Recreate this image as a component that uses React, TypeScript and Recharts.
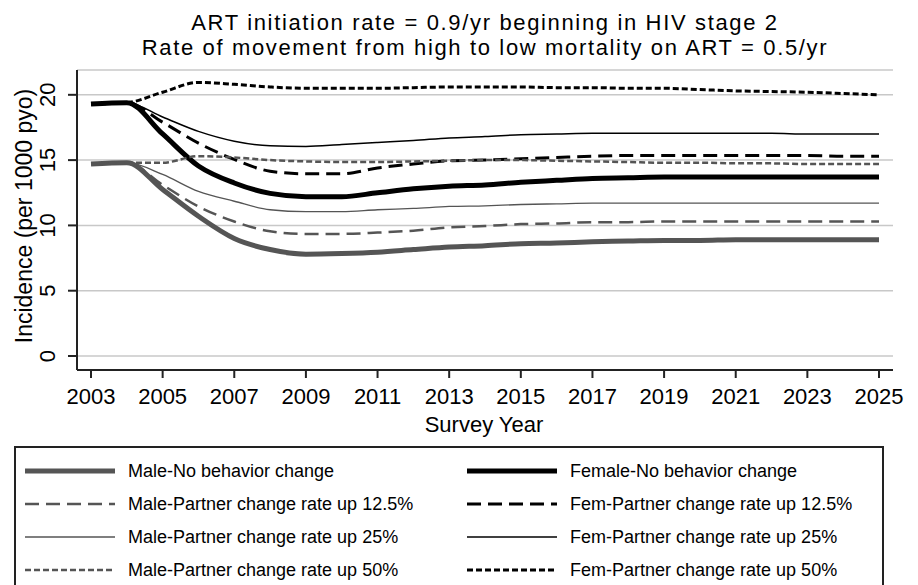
import React from 'react';
import { LineChart, Line, XAxis, YAxis, CartesianGrid } from 'recharts';

// survey years (yearly points)
const years = [
  2003, 2004, 2005, 2006, 2007, 2008, 2009, 2010, 2011, 2012, 2013, 2014,
  2015, 2016, 2017, 2018, 2019, 2020, 2021, 2022, 2023, 2024, 2025,
];

const maleNoChange = [
  14.7, 14.8, 12.75, 10.7, 9.0, 8.15, 7.8, 7.85, 7.95, 8.15, 8.35, 8.45,
  8.6, 8.65, 8.75, 8.8, 8.85, 8.85, 8.9, 8.9, 8.9, 8.9, 8.9,
];
const femNoChange = [
  19.3, 19.4, 17.0, 14.55, 13.25, 12.45, 12.2, 12.2, 12.5, 12.8, 13.0, 13.1,
  13.3, 13.45, 13.6, 13.65, 13.7, 13.7, 13.7, 13.7, 13.7, 13.7, 13.7,
];
const male125 = [
  14.7, 14.8, 13.1, 11.45, 10.3, 9.55, 9.35, 9.35, 9.45, 9.6, 9.85, 9.95,
  10.1, 10.15, 10.25, 10.25, 10.3, 10.3, 10.3, 10.3, 10.3, 10.3, 10.3,
];
const fem125 = [
  19.3, 19.4, 17.9, 16.3, 15.05, 14.15, 13.95, 13.95, 14.4, 14.7, 14.95, 15.0,
  15.1, 15.2, 15.3, 15.35, 15.35, 15.35, 15.35, 15.35, 15.35, 15.3, 15.3,
];
const male25 = [
  14.7, 14.8, 13.9, 12.6, 11.85, 11.2, 11.05, 11.05, 11.2, 11.3, 11.45, 11.5,
  11.6, 11.65, 11.7, 11.7, 11.7, 11.7, 11.7, 11.7, 11.7, 11.7, 11.7,
];
const fem25 = [
  19.3, 19.4, 18.3, 17.2, 16.45, 16.1, 16.05, 16.2, 16.35, 16.5, 16.7, 16.8,
  16.95, 17.0, 17.05, 17.05, 17.05, 17.05, 17.05, 17.05, 17.0, 17.0, 17.0,
];
const male50 = [
  14.7, 14.8, 14.8, 15.3, 15.2, 15.0, 14.9, 14.85, 14.85, 14.9, 14.95, 15.0,
  15.0, 14.95, 14.9, 14.85, 14.8, 14.8, 14.75, 14.75, 14.7, 14.7, 14.7,
];
const fem50 = [
  19.3, 19.4, 20.2, 20.95, 20.8, 20.6, 20.5, 20.5, 20.5, 20.55, 20.6, 20.6,
  20.6, 20.55, 20.55, 20.5, 20.5, 20.4, 20.3, 20.25, 20.2, 20.1, 20.0,
];

const xTicks = [2003, 2005, 2007, 2009, 2011, 2013, 2015, 2017, 2019, 2021, 2023, 2025];
const yTicks = [0, 5, 10, 15, 20];

const data = years.map((year, i) => ({
  year,
  maleNoChange: maleNoChange[i],
  femNoChange: femNoChange[i],
  male125: male125[i],
  fem125: fem125[i],
  male25: male25[i],
  fem25: fem25[i],
  male50: male50[i],
  fem50: fem50[i],
}));

const GRAY = '#555';
const BLACK = '#000';

// series styles, in legend order (left column / right column per row)
const series = [
  { key: 'maleNoChange', name: 'Male-No behavior change', color: GRAY, width: 5, dash: undefined },
  { key: 'femNoChange', name: 'Female-No behavior change', color: BLACK, width: 5, dash: undefined },
  { key: 'male125', name: 'Male-Partner change rate up 12.5%', color: GRAY, width: 2.5, dash: '14 7' },
  { key: 'fem125', name: 'Fem-Partner change rate up 12.5%', color: BLACK, width: 3, dash: '14 7' },
  { key: 'male25', name: 'Male-Partner change rate up 25%', color: GRAY, width: 1.3, dash: undefined },
  { key: 'fem25', name: 'Fem-Partner change rate up 25%', color: BLACK, width: 1.5, dash: undefined },
  { key: 'male50', name: 'Male-Partner change rate up 50%', color: GRAY, width: 2.5, dash: '6 3' },
  { key: 'fem50', name: 'Fem-Partner change rate up 50%', color: BLACK, width: 3, dash: '6 3' },
];

const FONT = 'Liberation Sans, Arial, sans-serif';

const YTick = (props: any) => {
  const { y, payload } = props;
  const x = 55;
  return (
    <text
      x={x}
      y={y}
      transform={`rotate(-90 ${x} ${y})`}
      textAnchor="middle"
      fontSize={22}
      fontFamily={FONT}
      fill="#000"
    >
      {payload.value}
    </text>
  );
};

const titleStyle: React.CSSProperties = {
  position: 'absolute',
  left: 0,
  width: 970,
  textAlign: 'center',
  fontSize: 22,
  letterSpacing: 1.65,
  lineHeight: '22px',
  height: 22,
  color: '#000',
  whiteSpace: 'nowrap',
};

const App = () => {
  return (
    <div
      style={{
        position: 'absolute',
        left: 0,
        top: 0,
        width: 918,
        height: 585,
        overflow: 'hidden',
        background: '#fff',
        fontFamily: FONT,
      }}
    >
      <div style={{ ...titleStyle, top: 12 }}>ART initiation rate = 0.9/yr beginning in HIV stage 2</div>
      <div style={{ ...titleStyle, top: 37 }}>Rate of movement from high to low mortality on ART = 0.5/yr</div>

      <LineChart
        width={918}
        height={585}
        data={data}
        margin={{ top: 70, right: 25, bottom: 155, left: 0 }}
      >
        <CartesianGrid vertical={false} stroke="#c8c8c8" strokeWidth={1.5} />
        <XAxis
          dataKey="year"
          type="number"
          domain={[2003, 2025]}
          ticks={xTicks}
          padding={{ left: 14, right: 14 }}
          height={60}
          stroke="#222"
          strokeWidth={2}
          tickSize={8}
          tickMargin={10}
          tick={{ fontSize: 22, fill: '#000', fontFamily: FONT }}
        />
        <YAxis
          type="number"
          domain={[0, 21.9]}
          ticks={yTicks}
          padding={{ top: 0, bottom: 14 }}
          width={77}
          stroke="#222"
          strokeWidth={2}
          tickSize={9}
          tick={<YTick />}
        />
        {series.map((s) => (
          <Line
            key={s.key}
            type="monotone"
            dataKey={s.key}
            name={s.name}
            stroke={s.color}
            strokeWidth={s.width}
            strokeDasharray={s.dash}
            dot={false}
            activeDot={false}
            isAnimationActive={false}
          />
        ))}
      </LineChart>

      <div
        style={{
          position: 'absolute',
          left: 24,
          top: 216,
          transform: 'translate(-50%, -50%) rotate(-90deg)',
          fontSize: 23,
          whiteSpace: 'nowrap',
          color: '#000',
        }}
      >
        Incidence (per 1000 pyo)
      </div>

      <div
        style={{
          position: 'absolute',
          left: 484,
          top: 425,
          transform: 'translate(-50%, -50%)',
          fontSize: 22,
          lineHeight: '22px',
          whiteSpace: 'nowrap',
          color: '#000',
        }}
      >
        Survey Year
      </div>

      <div
        style={{
          position: 'absolute',
          left: 14,
          top: 446,
          width: 870,
          height: 160,
          border: '2px solid #222',
          boxSizing: 'border-box',
        }}
      >
        {series.map((s, i) => {
          const col = i % 2;
          const row = Math.floor(i / 2);
          const left = col === 0 ? 8 : 450;
          const top = 23 + row * 33;
          return (
            <div
              key={s.key}
              style={{ position: 'absolute', left, top: top - 12, height: 24, display: 'flex', alignItems: 'center' }}
            >
              <svg width={92} height={24} style={{ display: 'block' }}>
                <line
                  x1={1}
                  y1={12}
                  x2={91}
                  y2={12}
                  stroke={s.color}
                  strokeWidth={s.width}
                  strokeDasharray={s.dash}
                />
              </svg>
              <span style={{ marginLeft: 12, fontSize: 18, color: '#000', whiteSpace: 'nowrap' }}>{s.name}</span>
            </div>
          );
        })}
      </div>
    </div>
  );
};

export default App;
